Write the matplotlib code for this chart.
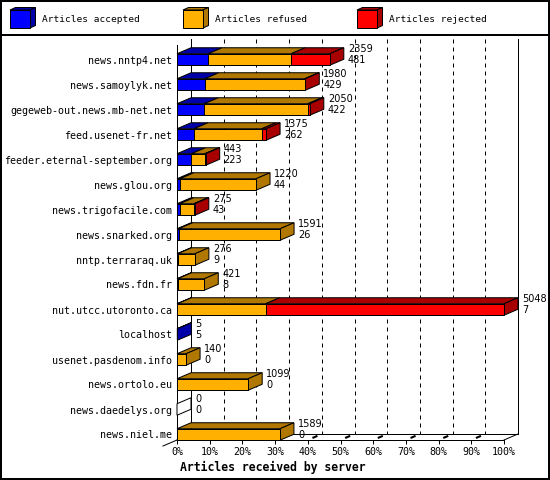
import matplotlib
matplotlib.use("Agg")
import matplotlib.pyplot as plt
from matplotlib.patches import Polygon, Rectangle
from matplotlib.lines import Line2D
from matplotlib.transforms import IdentityTransform

# ---------------- data ----------------
servers = ["news.nntp4.net", "news.samoylyk.net", "gegeweb-out.news.mb-net.net",
           "feed.usenet-fr.net", "feeder.eternal-september.org", "news.glou.org",
           "news.trigofacile.com", "news.snarked.org", "nntp.terraraq.uk",
           "news.fdn.fr", "nut.utcc.utoronto.ca", "localhost",
           "usenet.pasdenom.info", "news.ortolo.eu", "news.daedelys.org", "news.niel.me"]
accepted = [481, 429, 422, 262, 223, 44, 43, 26, 9, 8, 7, 5, 0, 0, 0, 0]
refused = [1281, 1541, 1597, 1046, 205, 1176, 217, 1565, 267, 413, 1362, 0, 140, 1099, 0, 1589]
rejected = [597, 10, 31, 67, 15, 0, 15, 0, 0, 0, 3679, 0, 0, 0, 0, 0]
series_names = ["Articles accepted", "Articles refused", "Articles rejected"]
tick_labels = ["0%", "10%", "20%", "30%", "40%", "50%", "60%", "70%", "80%", "90%", "100%"]
xlabel = "Articles received by server"

totals = [a + r + j for a, r, j in zip(accepted, refused, rejected)]
series = [accepted, refused, rejected]

# ---------------- style / layout ----------------
W, H, DPI = 550, 480, 100
DX, DY = 14, 6
front_colors = ["#0000ff", "#ffb000", "#ff0000"]
dark_colors = ["#0000a8", "#b07800", "#a80000"]
LW = 0.72
MONO = "DejaVu Sans Mono"
SANS = "DejaVu Sans"

fig = plt.figure(figsize=(W / DPI, H / DPI), dpi=DPI)
fig.patch.set_facecolor("white")

# frame / legend canvas
fr = fig.add_axes([0, 0, 1, 1])
fr.set_xlim(0, W)
fr.set_ylim(H, 0)
fr.axis("off")
fr.add_patch(Rectangle((1, 1), W - 2, H - 2, fill=False, lw=1.44, ec="black"))
fr.add_line(Line2D([0, W], [35, 35], color="black", lw=1.44))

leg_x = [10, 183, 357]
for k, name in enumerate(series_names):
    x = leg_x[k]
    fr.add_patch(Polygon([(x, 10), (x + 20, 10), (x + 25.5, 7.5), (x + 5.5, 7.5)],
                         closed=True, fc=dark_colors[k], ec="black", lw=LW))
    fr.add_patch(Polygon([(x + 20, 10), (x + 25.5, 7.5), (x + 25.5, 25.5), (x + 20, 28)],
                         closed=True, fc=dark_colors[k], ec="black", lw=LW))
    fr.add_patch(Rectangle((x, 10), 20, 18, fc=front_colors[k], ec="black", lw=LW))
    fr.text(x + 32, 20, name, family=MONO, fontsize=6.8, va="center", ha="left")

# main axes (front plane)
n = len(servers)
row_px, y_first = 25, 59.5
ax_top, ax_bot, ax_left, ax_right = 45, 440, 177, 504
ax = fig.add_axes([ax_left / W, 1 - ax_bot / H, (ax_right - ax_left) / W, (ax_bot - ax_top) / H])
ax.set_facecolor("none")
xmax = max(totals)
ax.set_xlim(0, xmax)
ylo = (ax_top - y_first) / row_px
yhi = (ax_bot - y_first) / row_px
ax.set_ylim(yhi, ylo)
half = 0.23

for s in ["top", "right"]:
    ax.spines[s].set_visible(False)
for s in ["left", "bottom"]:
    ax.spines[s].set_linewidth(LW)
    ax.spines[s].set_zorder(1)

ax.set_yticks(range(n))
ax.set_yticklabels(servers, family=MONO, fontsize=7.2)
ax.tick_params(axis="y", length=0, pad=3.6)
xt = [k * xmax / 10 for k in range(11)]
ax.set_xticks(xt)
ax.set_xticklabels(tick_labels, family=MONO, fontsize=7.2)
ax.tick_params(axis="x", length=2.9, width=LW, direction="out", pad=2.2)

fig.canvas.draw()


def disp(x, y, d=0.0):
    px, py = ax.transData.transform((x, y))
    return (px + d * DX, py + d * DY)


def seg(p, q, **kw):
    ax.add_line(Line2D([p[0], q[0]], [p[1], q[1]], transform=IdentityTransform(),
                       clip_on=False, **kw))


def poly(pts, fc, z):
    ax.add_patch(Polygon(pts, closed=True, fc=fc, ec="black", lw=LW,
                         transform=IdentityTransform(), clip_on=False, zorder=z,
                         joinstyle="miter"))


# back wall lines and grid
for xv in [0, xmax]:
    seg(disp(xv, ylo, 1), disp(xv, yhi, 1), color="black", lw=LW, zorder=1)
for xv in xt[1:-1]:
    seg(disp(xv, ylo, 1), disp(xv, yhi, 1), color="black", lw=LW,
        linestyle=(0, (4, 4)), zorder=1)
# floor
seg(disp(0, yhi, 1), disp(xmax, yhi, 1), color="black", lw=LW, zorder=1)
seg(disp(0, yhi, 0), disp(0, yhi, 1), color="black", lw=LW, zorder=1)
seg(disp(xmax, yhi, 0), disp(xmax, yhi, 1), color="black", lw=LW, zorder=1)
seg(disp(0, yhi, 0), disp(0, yhi, -1), color="black", lw=LW, zorder=1)
for xv in xt[1:-1]:
    seg(disp(xv, yhi, 0.4), disp(xv, yhi, 0.62), color="black", lw=1.5, zorder=1)

# bars
for i in range(n):
    yt, yb = i - half, i + half
    start = 0
    last = None
    segs = []
    for k in range(3):
        v = series[k][i]
        if v > 0:
            segs.append((k, start, start + v))
            last = k
        start += v
    z = 3
    if not segs:
        poly([disp(0, yt), disp(0, yt, 1), disp(0, yb, 1), disp(0, yb)], "white", z)
    for k, x0, x1 in segs:
        poly([disp(x0, yt), disp(x1, yt), disp(x1, yt, 1), disp(x0, yt, 1)], dark_colors[k], z)
    tot = totals[i]
    side_c = dark_colors[last] if last is not None else "white"
    if segs:
        poly([disp(tot, yt), disp(tot, yt, 1), disp(tot, yb, 1), disp(tot, yb)], side_c, z)
    for k, x0, x1 in segs:
        ax.add_patch(Rectangle((x0, yt), x1 - x0, yb - yt, fc=front_colors[k], ec="black",
                               lw=LW, zorder=z + 0.5, clip_on=False))
    ax.annotate(str(tot), xy=(tot, i), xytext=(18 * 0.72, 10.5 * 0.72),
                textcoords="offset points", ha="left", va="center",
                family=SANS, fontsize=7, annotation_clip=False, zorder=5)
    ax.annotate(str(accepted[i]), xy=(tot, i), xytext=(18 * 0.72, -0.5 * 0.72),
                textcoords="offset points", ha="left", va="center",
                family=SANS, fontsize=7, annotation_clip=False, zorder=5)

fig.text(180 / W, 1 - 467 / H, xlabel, family=MONO, fontweight="bold", fontsize=8.3,
         ha="left", va="center")

fig.savefig("out.png", dpi=DPI)
